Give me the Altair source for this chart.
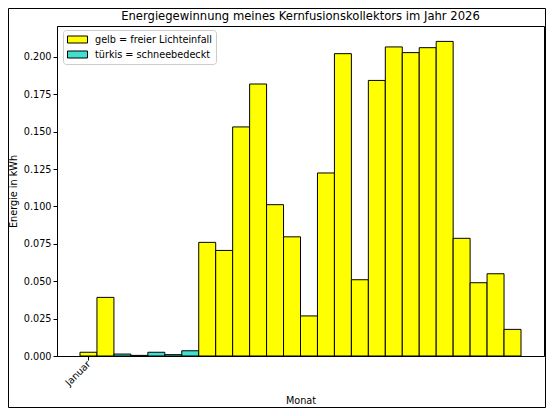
import pandas as pd
import altair as alt

# Zweiwoechige Werte (26 Balken)
energie = [0.0025, 0.0392, 0.0013, 0.0004, 0.0025, 0.0009, 0.0035,
           0.0760, 0.0706, 0.1532, 0.1819, 0.1012, 0.0797, 0.0268,
           0.1224, 0.2022, 0.0510, 0.1843, 0.2067, 0.2029, 0.2062,
           0.2104, 0.0787, 0.0490, 0.0550, 0.0178]
zustand = ["gelb", "gelb", "türkis", "türkis", "türkis", "türkis", "türkis"] + ["gelb"] * 19
legenden_text = {"gelb": "gelb = freier Lichteinfall",
                 "türkis": "türkis = schneebedeckt"}
y_ticks = [0.0, 0.025, 0.05, 0.075, 0.1, 0.125, 0.15, 0.175, 0.2]
titel = "Energiegewinnung meines Kernfusionskollektors im Jahr 2026"

df = pd.DataFrame({
    "nr": list(range(len(energie))),
    "energie": energie,
    "zustand": [legenden_text[z] for z in zustand],
})
df["start"] = df["nr"] - 0.5
df["ende"] = df["nr"] + 0.5
df["basis"] = 0.0

W, H = 487, 330
font = "DejaVu Sans"

bars = alt.Chart(df).mark_bar(stroke="black", strokeWidth=1).encode(
    x=alt.X("start:Q", scale=alt.Scale(domain=[-1.856, 26.856], nice=False, zero=False),
            axis=alt.Axis(values=[0], labelExpr="'Januar'", labelAngle=315,
                          labelAlign="right", labelBaseline="middle", labelPadding=2,
                          grid=False, tickSize=4, tickColor="black", domainColor="black",
                          title="Monat", titleX=W / 2, titleY=44, titleBaseline="middle",
                          titleFontWeight="normal")),
    x2="ende:Q",
    y=alt.Y("energie:Q", scale=alt.Scale(domain=[0, 0.2207], nice=False),
            axis=alt.Axis(values=y_ticks, format=".3f", grid=False, tickSize=4,
                          tickColor="black", domainColor="black", labelPadding=2,
                          title="Energie in kWh", titleX=-44, titleY=H / 2,
                          titleAlign="center", titleBaseline="middle",
                          titleFontWeight="normal")),
    y2="basis:Q",
    color=alt.Color("zustand:N",
                    scale=alt.Scale(domain=list(legenden_text.values()),
                                    range=["#ffff00", "#40e0d0"]),
                    legend=alt.Legend(title=None, orient="none", legendX=6, legendY=4,
                                      symbolType="M-1,-0.7H3V0.7H-1Z", symbolSize=100,
                                      symbolStrokeColor="black", symbolStrokeWidth=1,
                                      labelOffset=17, rowPadding=4, padding=4,
                                      fillColor="white", strokeColor="#cccccc",
                                      cornerRadius=3)),
)

eins = pd.DataFrame({"t": [titel]})

# Titel als Textmarke, damit der Rahmen ihn nicht verschiebt
kopf = alt.Chart(eins).mark_text(
    font=font, fontSize=11.6, color="black", align="center", baseline="alphabetic"
).encode(x=alt.value(W / 2), y=alt.value(-6), text="t:N")

# Rahmen um die ganze Abbildung
rahmen = alt.Chart(eins).mark_rect(
    fillOpacity=0, stroke="black", strokeWidth=1
).encode(
    x=alt.value(-48.5), x2=alt.value(W + 1.5),
    y=alt.value(-17.5), y2=alt.value(H + 51.5),
)

chart = (bars + kopf + rahmen).properties(
    width=W, height=H,
    autosize=alt.AutoSizeParams(type="none"),
    padding={"left": 49, "top": 18, "right": 2, "bottom": 52},
).configure_view(stroke="black", strokeWidth=1).configure_axis(
    labelFont=font, titleFont=font, labelFontSize=9.7, titleFontSize=9.7,
    labelColor="black", titleColor="black"
).configure_legend(labelFont=font, labelFontSize=9.7, labelColor="black")

chart.save("out.html", embed_options={"renderer": "svg", "actions": False})
